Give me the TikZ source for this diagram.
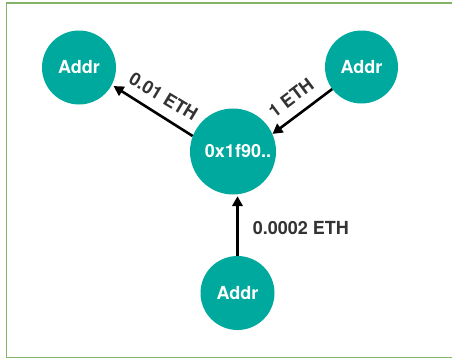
\documentclass[tikz,border=0pt]{standalone}
\usepackage{fontspec}
\setmainfont{TeX Gyre Heros}
\usetikzlibrary{arrows.meta}
\definecolor{teal1}{HTML}{00A99D}
\definecolor{frame}{HTML}{82B366}
\definecolor{lbl}{HTML}{333333}
\begin{document}
\begin{tikzpicture}[x=1pt,y=-1pt,
  addr/.style={circle,fill=teal1,draw=none,inner sep=0pt,text=white,font=\fontsize{18}{20}\selectfont\bfseries},
  lab/.style={text=lbl,font=\fontsize{18}{20}\selectfont\bfseries,inner sep=0pt},
  conn/.style={line width=2.6pt,-{Triangle[length=10pt,width=10.5pt]}}]
\useasboundingbox (0,0) rectangle (452,359);
\clip (0,0) rectangle (452,359);
\draw[frame,line width=1.6pt] (6.5,3) rectangle (480,357.5);
\node[addr,minimum size=74pt] (tl) at (79,67.5) {Addr};
\node[addr,minimum size=73pt] (tr) at (361.5,67) {Addr};
\node[addr,minimum size=86pt,label={[text=white,font=\fontsize{18}{20}\selectfont\bfseries,xshift=5pt]center:0x1f90..}] (c) at (233,151.5) {};
\node[addr,minimum size=74pt] (b) at (237.5,293) {Addr};
\draw[conn,shorten >=2pt] (c.159) -- (tl.-28);
\draw[conn] (tr.217.7) -- (c.24);
\draw[conn,shorten >=1.5pt] (b.north) -- (b.north |- c.south);
\node[lab,rotate=-31] (l1) at (163.5,96.5) {0.01 ETH};
\node[lab,rotate=37] (l2) at (291,97.5) {1 ETH};
\node[lab,anchor=west] (l3) at (252.7,228) {0.0002 ETH};
\end{tikzpicture}
\end{document}
